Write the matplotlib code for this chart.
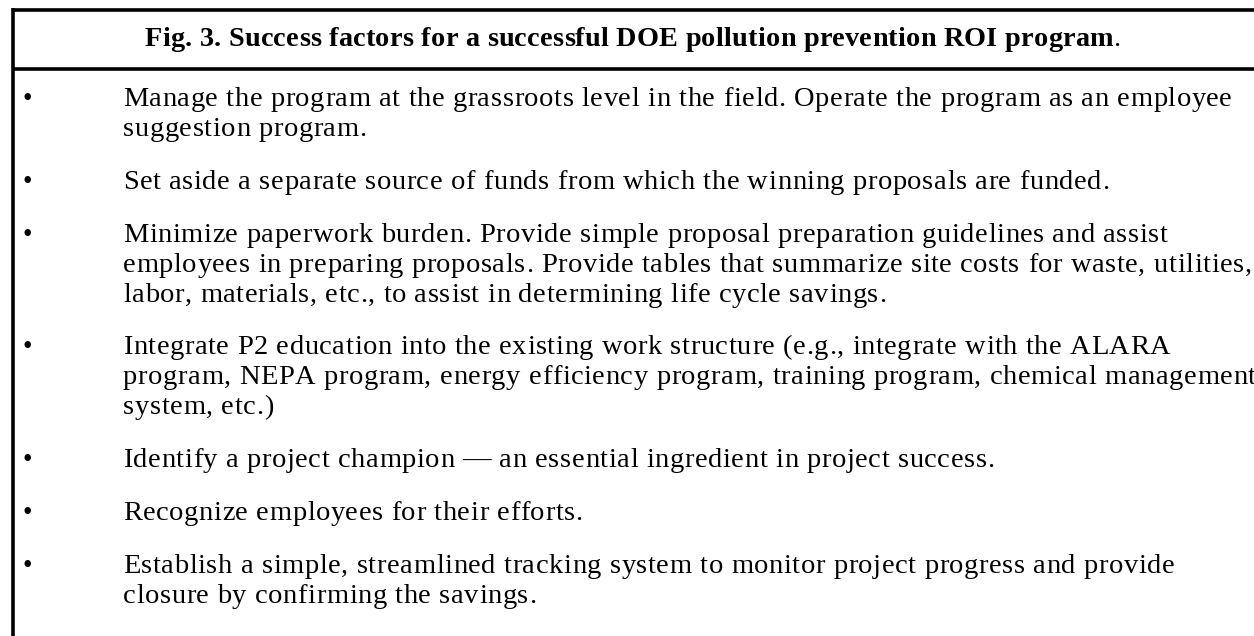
import matplotlib
matplotlib.use('Agg')
import matplotlib.pyplot as plt
from matplotlib import font_manager
from matplotlib.ft2font import FT2Font

title = 'Fig. 3. Success factors for a successful DOE pollution prevention ROI program'

items = [
    ['Manage the program at the grassroots level in the field. Operate the program as an employee',
     'suggestion program.'],
    ['Set aside a separate source of funds from which the winning proposals are funded.'],
    ['Minimize paperwork burden. Provide simple proposal preparation guidelines and assist',
     'employees in preparing proposals. Provide tables that summarize site costs for waste, utilities,',
     'labor, materials, etc., to assist in determining life cycle savings.'],
    ['Integrate P2 education into the existing work structure (e.g., integrate with the ALARA',
     'program, NEPA program, energy efficiency program, training program, chemical management',
     'system, etc.)'],
    ['Identify a project champion \u2014 an essential ingredient in project success.'],
    ['Recognize employees for their efforts.'],
    ['Establish a simple, streamlined tracking system to monitor project progress and provide',
     'closure by confirming the savings.'],
]

W, H = 1254, 636
DPI = 100
fig = plt.figure(figsize=(W / DPI, H / DPI), dpi=DPI)
ax = fig.add_axes([0, 0, 1, 1])
ax.set_xlim(0, W)
ax.set_ylim(H, 0)
ax.axis('off')

FAMILY = 'Liberation Serif'


def advances(s, size, weight='normal'):
    path = font_manager.findfont(font_manager.FontProperties(family=FAMILY, weight=weight))
    f = FT2Font(path)
    f.set_size(size, DPI)
    return [f.load_char(ord(c)).linearHoriAdvance / 65536 for c in s]


def tracked(x, y, s, size, track, weight='normal'):
    # the source has a little extra letter spacing, so draw char by char
    adv = advances(s, size, weight)
    for c, a in zip(s, adv):
        if c != ' ':
            ax.text(x, y, c, fontsize=size, fontweight=weight, family=FAMILY,
                    ha='left', va='baseline')
        x += a + track
    return x


# borders
ax.plot([12.5, W], [9.5, 9.5], color='black', lw=2.6, solid_capstyle='butt')
ax.plot([12.5, W], [68.5, 68.5], color='black', lw=2.6, solid_capstyle='butt')
ax.plot([12.5, 12.5], [8.2, H], color='black', lw=2.6, solid_capstyle='butt')

# header: bold text followed by a plain period
hfs = 20.3
hx0, hx1 = 145, 1113
nat = sum(advances(title, hfs, 'bold'))
htrack = (hx1 - hx0 - nat) / (len(title) - 1)
xe = tracked(hx0, 46.5, title, hfs, htrack, 'bold')
ax.text(xe, 46.5, '.', fontsize=hfs, family=FAMILY, ha='left', va='baseline')

# bullet rows
fs = 20.5
tx0 = 123
nat = sum(advances(items[0][0], fs))
track = (1232 - tx0 - nat) / (len(items[0][0]) - 1)
line_h = 30
y = 106
for lines in items:
    ax.text(27, y, '\u2022', fontsize=fs - 1, family=FAMILY, ha='center', va='baseline')
    for ln in lines:
        tracked(tx0, y, ln, fs, track)
        y += line_h
    y += 22.8

fig.savefig('out.png', dpi=DPI)
